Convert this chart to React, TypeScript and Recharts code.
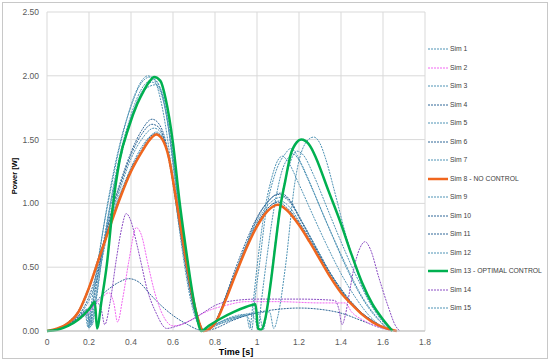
import React from 'react';
import { LineChart, Line, XAxis, YAxis, CartesianGrid } from 'recharts';

const xTicks = [0, 0.2, 0.4, 0.6, 0.8, 1, 1.2, 1.4, 1.6, 1.8];
const yTicks = [0, 0.5, 1, 1.5, 2, 2.5];

const sim1T = [0, 0.05, 0.1, 0.15, 0.18, 0.195, 0.21, 0.24, 0.27, 0.3, 0.34, 0.38, 0.42, 0.46, 0.48, 0.51, 0.54, 0.57, 0.6, 0.63, 0.66, 0.69, 0.72, 0.745, 0.8, 0.9, 1.0, 1.06, 1.08, 1.1, 1.135, 1.18, 1.23, 1.27, 1.3, 1.325, 1.37, 1.42, 1.47, 1.51, 1.56, 1.6, 1.64, 1.66];
const sim1P = [0, 0.01, 0.04, 0.1, 0.15, 0.03, 0.2, 0.52, 0.82, 1.08, 1.4, 1.66, 1.86, 1.98, 2.0, 1.97, 1.82, 1.55, 1.18, 0.8, 0.46, 0.2, 0.05, 0, 0.04, 0.1, 0.14, 0.15, 0.02, 0.12, 0.5, 1.16, 1.47, 1.52, 1.47, 1.36, 1.09, 0.77, 0.5, 0.31, 0.16, 0.07, 0.01, 0];

const sim2T = [0, 0.1, 0.2, 0.26, 0.295, 0.318, 0.336, 0.36, 0.39, 0.425, 0.45, 0.48, 0.51, 0.55, 0.6, 0.64, 0.7, 0.77, 0.85, 0.95, 1.1, 1.3, 1.42, 1.45, 1.5, 1.55, 1.6, 1.66];
const sim2P = [0, 0.04, 0.15, 0.26, 0.3, 0.22, 0.07, 0.25, 0.55, 0.81, 0.75, 0.53, 0.32, 0.13, 0.04, 0.05, 0.1, 0.16, 0.2, 0.23, 0.23, 0.22, 0.22, 0.15, 0.09, 0.05, 0.02, 0];

const sim3T = [0, 0.05, 0.1, 0.15, 0.19, 0.205, 0.22, 0.25, 0.28, 0.31, 0.35, 0.39, 0.43, 0.47, 0.51, 0.54, 0.57, 0.6, 0.63, 0.66, 0.69, 0.72, 0.745, 0.8, 0.88, 0.94, 0.96, 0.975, 0.99, 1.01, 1.04, 1.09, 1.135, 1.16, 1.19, 1.215, 1.28, 1.34, 1.42, 1.5, 1.58, 1.625, 1.64];
const sim3P = [0, 0.01, 0.04, 0.09, 0.16, 0.03, 0.15, 0.5, 0.8, 1.08, 1.4, 1.64, 1.83, 1.94, 1.97, 1.9, 1.68, 1.3, 0.9, 0.52, 0.24, 0.07, 0, 0.05, 0.11, 0.13, 0.1, 0.01, 0.25, 0.5, 0.9, 1.25, 1.39, 1.43, 1.38, 1.29, 1.05, 0.82, 0.53, 0.27, 0.09, 0.01, 0];

const sim4T = [0, 0.1, 0.15, 0.19, 0.205, 0.22, 0.25, 0.3, 0.35, 0.4, 0.45, 0.5, 0.53, 0.56, 0.59, 0.62, 0.65, 0.68, 0.71, 0.74, 0.75, 0.8, 0.87, 0.95, 1.0, 1.05, 1.11, 1.16, 1.2, 1.25, 1.3, 1.35, 1.4, 1.45, 1.5, 1.55, 1.6, 1.66];
const sim4P = [0, 0.05, 0.11, 0.17, 0.06, 0.22, 0.52, 0.9, 1.17, 1.4, 1.57, 1.66, 1.63, 1.52, 1.28, 0.96, 0.64, 0.34, 0.12, 0.01, 0, 0.07, 0.35, 0.68, 0.88, 1.01, 1.08, 1.02, 0.9, 0.75, 0.6, 0.45, 0.32, 0.22, 0.14, 0.08, 0.03, 0];

const sim5T = [0, 0.1, 0.16, 0.2, 0.215, 0.235, 0.26, 0.29, 0.32, 0.36, 0.4, 0.44, 0.48, 0.52, 0.55, 0.58, 0.61, 0.64, 0.67, 0.7, 0.73, 0.75, 0.8, 0.9, 0.97, 0.99, 1.005, 1.02, 1.045, 1.08, 1.12, 1.15, 1.17, 1.2, 1.25, 1.3, 1.36, 1.43, 1.5, 1.56, 1.61, 1.65];
const sim5P = [0, 0.04, 0.11, 0.18, 0.05, 0.25, 0.55, 0.86, 1.12, 1.42, 1.65, 1.82, 1.91, 1.93, 1.86, 1.62, 1.24, 0.85, 0.48, 0.21, 0.05, 0, 0.04, 0.1, 0.13, 0.1, 0.01, 0.22, 0.55, 0.95, 1.26, 1.36, 1.39, 1.34, 1.17, 0.97, 0.74, 0.48, 0.26, 0.12, 0.04, 0];

const sim6T = [0, 0.1, 0.2, 0.28, 0.34, 0.39, 0.44, 0.49, 0.55, 0.61, 0.67, 0.72, 0.75, 0.8, 0.88, 0.99, 1.1, 1.2, 1.3, 1.4, 1.5, 1.58, 1.66];
const sim6P = [0, 0.05, 0.17, 0.31, 0.38, 0.41, 0.38, 0.29, 0.19, 0.11, 0.05, 0.01, 0, 0.02, 0.08, 0.14, 0.17, 0.18, 0.17, 0.14, 0.08, 0.03, 0];

const sim7T = [0, 0.1, 0.15, 0.2, 0.25, 0.3, 0.35, 0.4, 0.45, 0.51, 0.54, 0.57, 0.6, 0.63, 0.66, 0.69, 0.72, 0.745, 0.8, 0.85, 0.9, 0.95, 1.0, 1.06, 1.12, 1.17, 1.22, 1.28, 1.34, 1.4, 1.46, 1.52, 1.58, 1.66];
const sim7P = [0, 0.05, 0.12, 0.24, 0.48, 0.85, 1.12, 1.35, 1.5, 1.59, 1.56, 1.44, 1.18, 0.86, 0.55, 0.27, 0.08, 0, 0.06, 0.25, 0.47, 0.68, 0.86, 1.0, 1.05, 0.98, 0.84, 0.66, 0.48, 0.33, 0.21, 0.11, 0.04, 0];

const sim8T = [0, 0.05, 0.1, 0.15, 0.2, 0.25, 0.3, 0.35, 0.4, 0.45, 0.49, 0.52, 0.55, 0.58, 0.61, 0.64, 0.67, 0.7, 0.72, 0.745, 0.8, 0.85, 0.9, 0.95, 1.0, 1.05, 1.1, 1.14, 1.2, 1.25, 1.3, 1.35, 1.4, 1.45, 1.5, 1.55, 1.6, 1.665];
const sim8P = [0, 0.02, 0.06, 0.15, 0.34, 0.58, 0.82, 1.05, 1.25, 1.4, 1.5, 1.54, 1.5, 1.36, 1.08, 0.78, 0.48, 0.22, 0.09, 0, 0.06, 0.24, 0.45, 0.65, 0.82, 0.94, 0.99, 0.95, 0.83, 0.7, 0.56, 0.42, 0.3, 0.21, 0.13, 0.07, 0.03, 0];

const sim9T = [0, 0.1, 0.15, 0.2, 0.25, 0.3, 0.35, 0.4, 0.45, 0.5, 0.52, 0.55, 0.58, 0.61, 0.64, 0.67, 0.7, 0.725, 0.745, 0.8, 0.85, 0.9, 0.95, 1.0, 1.05, 1.11, 1.15, 1.2, 1.25, 1.3, 1.35, 1.4, 1.45, 1.5, 1.55, 1.6, 1.665];
const sim9P = [0, 0.06, 0.14, 0.32, 0.58, 0.84, 1.08, 1.28, 1.44, 1.54, 1.56, 1.52, 1.38, 1.1, 0.79, 0.49, 0.23, 0.08, 0, 0.07, 0.26, 0.47, 0.67, 0.84, 0.96, 1.02, 0.98, 0.86, 0.72, 0.58, 0.44, 0.32, 0.22, 0.14, 0.08, 0.03, 0];

const sim10T = [0, 0.1, 0.15, 0.2, 0.25, 0.3, 0.35, 0.4, 0.45, 0.5, 0.53, 0.56, 0.59, 0.62, 0.65, 0.68, 0.71, 0.74, 0.8, 0.85, 0.9, 0.95, 1.0, 1.05, 1.1, 1.15, 1.2, 1.25, 1.3, 1.35, 1.4, 1.45, 1.5, 1.55, 1.6, 1.665];
const sim10P = [0, 0.05, 0.12, 0.27, 0.53, 0.88, 1.15, 1.38, 1.54, 1.62, 1.6, 1.49, 1.25, 0.93, 0.61, 0.32, 0.11, 0, 0.07, 0.27, 0.5, 0.71, 0.89, 1.01, 1.07, 1.03, 0.89, 0.74, 0.59, 0.45, 0.33, 0.22, 0.14, 0.08, 0.03, 0];

const sim11T = [0, 0.1, 0.15, 0.2, 0.25, 0.3, 0.35, 0.4, 0.45, 0.49, 0.52, 0.55, 0.58, 0.61, 0.64, 0.67, 0.7, 0.72, 0.745, 0.8, 0.85, 0.9, 0.95, 1.0, 1.05, 1.1, 1.14, 1.2, 1.25, 1.3, 1.35, 1.4, 1.45, 1.5, 1.55, 1.6, 1.665];
const sim11P = [0, 0.07, 0.16, 0.35, 0.6, 0.84, 1.07, 1.27, 1.42, 1.52, 1.55, 1.51, 1.37, 1.09, 0.79, 0.49, 0.23, 0.1, 0, 0.07, 0.25, 0.46, 0.66, 0.84, 0.96, 1.01, 0.97, 0.85, 0.72, 0.58, 0.43, 0.31, 0.22, 0.14, 0.08, 0.03, 0];

const sim12T = [0, 0.1, 0.15, 0.185, 0.2, 0.215, 0.245, 0.28, 0.32, 0.36, 0.4, 0.44, 0.49, 0.52, 0.55, 0.58, 0.61, 0.64, 0.67, 0.7, 0.73, 0.745, 0.8, 0.9, 0.95, 0.965, 0.98, 1.0, 1.03, 1.07, 1.1, 1.12, 1.15, 1.2, 1.26, 1.33, 1.4, 1.47, 1.54, 1.6, 1.64];
const sim12P = [0, 0.04, 0.09, 0.14, 0.02, 0.18, 0.55, 0.92, 1.27, 1.55, 1.76, 1.92, 1.99, 1.96, 1.84, 1.58, 1.22, 0.84, 0.48, 0.21, 0.05, 0, 0.05, 0.11, 0.12, 0.02, 0.2, 0.5, 0.88, 1.2, 1.34, 1.37, 1.32, 1.15, 0.93, 0.68, 0.45, 0.26, 0.11, 0.03, 0];

const sim13T = [0, 0.05, 0.1, 0.15, 0.2, 0.228, 0.238, 0.26, 0.285, 0.313, 0.346, 0.39, 0.43, 0.46, 0.49, 0.51, 0.54, 0.565, 0.6, 0.63, 0.66, 0.68, 0.71, 0.735, 0.77, 0.83, 0.89, 0.95, 0.993, 1.005, 1.02, 1.04, 1.064, 1.088, 1.11, 1.135, 1.16, 1.19, 1.21, 1.23, 1.26, 1.28, 1.34, 1.4, 1.45, 1.5, 1.55, 1.6, 1.645];
const sim13P = [0, 0.01, 0.04, 0.09, 0.17, 0.23, 0.02, 0.24, 0.52, 0.97, 1.34, 1.6, 1.78, 1.88, 1.96, 1.99, 1.96, 1.82, 1.47, 1.03, 0.66, 0.43, 0.14, 0, 0.04, 0.1, 0.15, 0.19, 0.21, 0.02, 0.01, 0.1, 0.36, 0.68, 0.96, 1.18, 1.38, 1.48, 1.5, 1.49, 1.43, 1.36, 1.1, 0.84, 0.6, 0.38, 0.21, 0.09, 0];

const sim14T = [0, 0.1, 0.2, 0.24, 0.258, 0.275, 0.3, 0.33, 0.355, 0.377, 0.4, 0.425, 0.45, 0.47, 0.52, 0.57, 0.62, 0.68, 0.75, 0.8, 0.9, 1.0, 1.2, 1.37, 1.39, 1.405, 1.42, 1.44, 1.46, 1.49, 1.515, 1.54, 1.58, 1.625, 1.66, 1.68];
const sim14P = [0, 0.04, 0.16, 0.22, 0.17, 0.05, 0.22, 0.56, 0.8, 0.92, 0.86, 0.7, 0.52, 0.37, 0.14, 0.02, 0.04, 0.08, 0.15, 0.2, 0.24, 0.25, 0.25, 0.24, 0.17, 0.05, 0.12, 0.3, 0.48, 0.65, 0.7, 0.64, 0.42, 0.19, 0.04, 0];

const sim15T = [0, 0.1, 0.15, 0.19, 0.21, 0.23, 0.26, 0.29, 0.33, 0.37, 0.41, 0.45, 0.5, 0.53, 0.56, 0.59, 0.62, 0.65, 0.68, 0.71, 0.74, 0.75, 0.8, 0.9, 0.98, 1.01, 1.03, 1.05, 1.08, 1.11, 1.15, 1.19, 1.22, 1.27, 1.33, 1.4, 1.47, 1.53, 1.59, 1.63, 1.66];
const sim15P = [0, 0.04, 0.1, 0.15, 0.04, 0.22, 0.55, 0.88, 1.22, 1.5, 1.72, 1.87, 1.95, 1.91, 1.76, 1.46, 1.07, 0.7, 0.37, 0.13, 0.01, 0, 0.05, 0.11, 0.14, 0.13, 0.01, 0.2, 0.6, 0.98, 1.28, 1.41, 1.38, 1.22, 0.98, 0.7, 0.44, 0.25, 0.1, 0.03, 0];

const LIGHT = '#4f93b5';
const DARK = '#2f6797';
const ORANGE = '#f0661e';
const GREEN = '#00b050';
const MAGENTA = '#f266f2';
const PURPLE = '#8a4cc4';

type S = { name: string; t: number[]; p: number[]; color: string; width: number; dashed: boolean };

const legendSeries: S[] = [
  { name: 'Sim 1', t: sim1T, p: sim1P, color: LIGHT, width: 1, dashed: true },
  { name: 'Sim 2', t: sim2T, p: sim2P, color: MAGENTA, width: 1, dashed: true },
  { name: 'Sim 3', t: sim3T, p: sim3P, color: LIGHT, width: 1, dashed: true },
  { name: 'Sim 4', t: sim4T, p: sim4P, color: DARK, width: 1, dashed: true },
  { name: 'Sim 5', t: sim5T, p: sim5P, color: LIGHT, width: 1, dashed: true },
  { name: 'Sim 6', t: sim6T, p: sim6P, color: DARK, width: 1, dashed: true },
  { name: 'Sim 7', t: sim7T, p: sim7P, color: LIGHT, width: 1, dashed: true },
  { name: 'Sim 8 - NO CONTROL', t: sim8T, p: sim8P, color: ORANGE, width: 2.5, dashed: false },
  { name: 'Sim 9', t: sim9T, p: sim9P, color: LIGHT, width: 1, dashed: true },
  { name: 'Sim 10', t: sim10T, p: sim10P, color: DARK, width: 1, dashed: true },
  { name: 'Sim 11', t: sim11T, p: sim11P, color: DARK, width: 1, dashed: true },
  { name: 'Sim 12', t: sim12T, p: sim12P, color: LIGHT, width: 1, dashed: true },
  { name: 'Sim 13 - OPTIMAL CONTROL', t: sim13T, p: sim13P, color: GREEN, width: 2.5, dashed: false },
  { name: 'Sim 14', t: sim14T, p: sim14P, color: PURPLE, width: 1, dashed: true },
  { name: 'Sim 15', t: sim15T, p: sim15P, color: LIGHT, width: 1, dashed: true },
];

const drawOrder = [0, 2, 3, 4, 5, 6, 8, 9, 10, 11, 14, 1, 13, 7, 12];

const toData = (t: number[], p: number[]) => t.map((v, i) => ({ t: v, p: p[i] }));

const FONT = '"Liberation Sans", Arial, sans-serif';

export default function App() {
  return (
    <div style={{ position: 'fixed', left: 0, top: 0, width: 550, height: 361, background: '#fff', fontFamily: FONT }}>
      <div style={{ position: 'absolute', left: 2, top: 2, width: 544, height: 355, border: '1px solid #c8c8c8' }} />
      <div style={{ position: 'absolute', left: 0, top: 0 }}>
        <LineChart width={550} height={361} margin={{ top: 12, right: 125, bottom: 0, left: 0 }}>
          <CartesianGrid stroke="#d9d9d9" strokeWidth={1} />
          <XAxis
            dataKey="t"
            type="number"
            domain={[0, 1.8]}
            ticks={xTicks}
            allowDataOverflow
            height={30}
            tickLine={false}
            axisLine={{ stroke: '#bfbfbf' }}
            tick={{ fontSize: 8.5, fill: '#595959', fontFamily: FONT }}
            tickFormatter={(v: number) => String(Math.round(v * 10) / 10)}
          />
          <YAxis
            type="number"
            domain={[0, 2.5]}
            ticks={yTicks}
            width={47}
            tickLine={false}
            axisLine={false}
            tick={{ fontSize: 8.5, fill: '#595959', fontFamily: FONT }}
            tickFormatter={(v: number) => v.toFixed(2)}
          />
          {drawOrder.map((idx) => {
            const s = legendSeries[idx];
            return (
              <Line
                key={s.name}
                data={toData(s.t, s.p)}
                dataKey="p"
                type="monotone"
                stroke={s.color}
                strokeWidth={s.width}
                strokeDasharray={s.dashed ? '2 1' : undefined}
                dot={false}
                activeDot={false}
                isAnimationActive={false}
              />
            );
          })}
        </LineChart>
      </div>
      <div style={{ position: 'absolute', left: 14, top: 176, transform: 'translate(-50%, -50%) rotate(-90deg)', transformOrigin: 'center', fontSize: 7.5, fontWeight: 'bold', color: '#000', whiteSpace: 'nowrap' }}>
        Power [W]
      </div>
      <div style={{ position: 'absolute', left: 236, top: 352, transform: 'translate(-50%, -50%)', fontSize: 9, fontWeight: 'bold', color: '#000', whiteSpace: 'nowrap' }}>
        Time [s]
      </div>
      {legendSeries.map((s, i) => (
        <div key={s.name} style={{ position: 'absolute', left: 428, top: 49 + i * 18.5 - 6, height: 12, display: 'flex', alignItems: 'center', whiteSpace: 'nowrap' }}>
          <svg width={20} height={4} style={{ display: 'block' }}>
            <line x1={0} y1={2} x2={20} y2={2} stroke={s.color} strokeWidth={s.dashed ? 1 : 2.5} strokeDasharray={s.dashed ? '2 1' : undefined} />
          </svg>
          <span style={{ marginLeft: 2, fontSize: 6.8, color: '#404040', lineHeight: '12px' }}>{s.name}</span>
        </div>
      ))}
    </div>
  );
}
